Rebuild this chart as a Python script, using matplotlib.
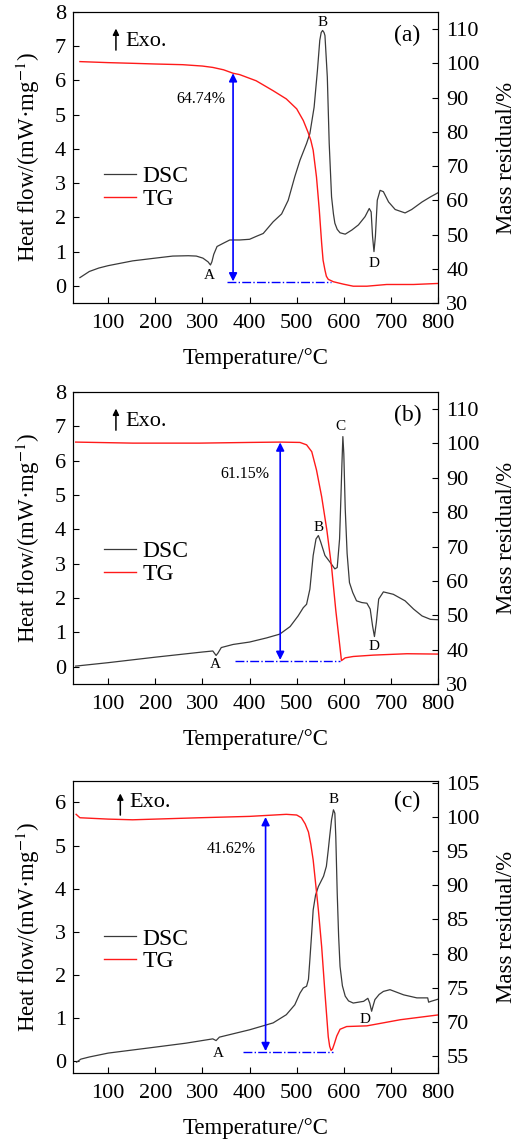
import matplotlib
matplotlib.use("Agg")
from matplotlib import pyplot as plt
from matplotlib.ticker import FixedLocator, FixedFormatter

plt.rcParams['font.family'] = ['Liberation Serif', 'DejaVu Serif']
plt.rcParams['mathtext.fontset'] = 'stix'

# panel (a)
dsc_a_t = [40, 60, 80, 100, 152, 200, 237, 270, 287, 301, 312, 317, 320, 324, 331, 345, 358,
           379, 400, 415, 429, 450, 468, 482, 496, 507, 521, 528, 537, 544, 549, 552, 555,
           558, 560, 565, 569, 574, 578, 581, 586, 592, 603, 617, 631, 645, 654, 658, 661,
           664, 667, 671, 677, 684, 695, 709, 730, 744, 766, 784, 800]
dsc_a = [0.24, 0.42, 0.52, 0.59, 0.73, 0.81, 0.87, 0.88, 0.87, 0.81, 0.70, 0.61, 0.70, 0.92,
         1.15, 1.25, 1.34, 1.34, 1.36, 1.45, 1.53, 1.87, 2.10, 2.50, 3.19, 3.67, 4.16, 4.45,
         5.22, 6.29, 7.17, 7.40, 7.46, 7.40, 7.31, 6.10, 4.16, 2.60, 2.10, 1.83, 1.65, 1.55,
         1.51, 1.63, 1.78, 2.02, 2.26, 2.16, 1.44, 1.00, 1.44, 2.50, 2.79, 2.75, 2.45, 2.23,
         2.13, 2.23, 2.45, 2.60, 2.72]
tg_a_t = [40, 100, 152, 200, 258, 300, 322, 345, 365, 379, 414, 450, 478, 500, 514, 524, 530,
          535, 542, 545, 548, 553, 556, 560, 563, 567, 578, 599, 620, 649, 691, 748, 800]
tg_a = [100.5, 100.2, 100.0, 99.8, 99.6, 99.2, 98.8, 98.1, 97.1, 96.7, 94.9, 92.0, 89.6,
        86.7, 83.3, 79.9, 77.5, 74.6, 66.8, 62.0, 57.1, 47.4, 42.5, 39.6, 37.8, 36.9, 36.2,
        35.5, 34.9, 34.9, 35.4, 35.4, 35.7]

# panel (b)
dsc_b_t = [31, 100, 200, 300, 322, 329, 333, 340, 365, 400, 436, 464, 486, 503, 514, 521,
           528, 535, 541, 546, 551, 560, 571, 581, 586, 591, 594, 596, 598, 600, 603, 607,
           612, 619, 627, 638, 649, 656, 661, 665, 669, 674, 684, 705, 730, 748, 766, 784, 800]
dsc_b = [0.02, 0.12, 0.28, 0.43, 0.46, 0.33, 0.40, 0.56, 0.65, 0.72, 0.84, 0.95, 1.17, 1.48,
         1.72, 1.82, 2.26, 3.24, 3.72, 3.82, 3.63, 3.24, 3.04, 2.85, 2.89, 3.72, 5.0, 5.9,
         6.7, 6.2, 4.6, 3.3, 2.45, 2.16, 1.92, 1.87, 1.85, 1.68, 1.19, 0.88, 1.29, 1.97,
         2.18, 2.11, 1.92, 1.68, 1.48, 1.38, 1.37]
tg_b_t = [31, 152, 294, 400, 464, 507, 521, 532, 542, 553, 564, 574, 583, 591, 595, 603, 620,
          663, 734, 800]
tg_b = [100.4, 100.1, 100.1, 100.3, 100.4, 100.3, 99.6, 97.6, 92.3, 84.5, 74.8, 64.1, 51.4,
        41.7, 36.8, 37.6, 38.0, 38.4, 38.8, 38.7]

# panel (c)  (right axis is compressed: tick "55" sits where 65 would be)
dsc_c_t = [33, 42, 60, 100, 201, 265, 322, 329, 336, 400, 450, 478, 496, 507, 514, 521, 525,
           528, 532, 535, 540, 546, 557, 563, 567, 570, 574, 578, 581, 583, 586, 589, 592,
           597, 603, 610, 620, 642, 651, 655, 659, 662, 666, 675, 684, 698, 727, 755, 778,
           780, 785, 800]
dsc_c = [-0.02, 0.05, 0.10, 0.19, 0.33, 0.42, 0.52, 0.48, 0.56, 0.73, 0.89, 1.08, 1.31, 1.58,
         1.70, 1.74, 1.90, 2.36, 3.00, 3.51, 3.85, 4.05, 4.29, 4.52, 4.90, 5.21, 5.60, 5.83,
         5.75, 5.20, 3.90, 2.90, 2.20, 1.75, 1.51, 1.40, 1.35, 1.39, 1.46, 1.35, 1.16, 1.28,
         1.43, 1.55, 1.62, 1.66, 1.54, 1.47, 1.47, 1.37, 1.39, 1.44]
tg_c_t = [32, 40, 100, 152, 294, 400, 478, 500, 510, 518, 525, 530, 535, 546, 553, 560, 567,
          570, 573, 576, 580, 585, 592, 606, 649, 720, 800]
tg_c = [100.4, 99.9, 99.7, 99.6, 99.9, 100.1, 100.4, 100.3, 99.9, 99.0, 97.8, 96.0, 93.7,
        86.4, 81.0, 74.2, 67.8, 66.4, 65.8, 66.0, 66.8, 67.9, 68.9, 69.3, 69.4, 70.3, 71.0]

fig = plt.figure(figsize=(5.24, 11.39), dpi=100)

panels = [
    dict(box=[0.139, 0.734, 0.697, 0.2555], dsc=(dsc_a_t, dsc_a), tg=(tg_a_t, tg_a),
         ylim=(-0.5, 8), yticks=range(0, 9), rlim=(30, 115), rticks=list(range(30, 111, 10)),
         rlabels=None, tag="(a)", tagy=7.31, loss="64.74%", lossxy=(297, 5.47),
         arrx=365, arr=(36.3, 97.1), dash=(353, 572, 36.2),
         letters=[("A", 315, 0.29), ("B", 555, 7.7), ("D", 664, 0.66)],
         exo=(0.118, 0.869, 0.943, 0.145, 0.90), leg=0.395),
    dict(box=[0.139, 0.3995, 0.697, 0.2564], dsc=(dsc_b_t, dsc_b), tg=(tg_b_t, tg_b),
         ylim=(-0.5, 8), yticks=range(0, 9), rlim=(30, 115), rticks=list(range(30, 111, 10)),
         rlabels=None, tag="(b)", tagy=7.31, loss="61.15%", lossxy=(390, 5.6),
         arrx=465, arr=(37.0, 100.3), dash=(370, 592, 36.8),
         letters=[("A", 328, 0.07), ("B", 546, 4.05), ("C", 593, 6.98), ("D", 664, 0.6)],
         exo=(0.118, 0.869, 0.943, 0.145, 0.90), leg=0.415),
    dict(box=[0.139, 0.058, 0.697, 0.2564], dsc=(dsc_c_t, dsc_c), tg=(tg_c_t, tg_c),
         ylim=(-0.27, 6.5), yticks=range(0, 7), rlim=(62.5, 105.3),
         rticks=[65, 70, 75, 80, 85, 90, 95, 100, 105],
         rlabels=["55", "70", "75", "80", "85", "90", "95", "100", "105"],
         tag="(c)", tagy=6.02, loss="41.62%", lossxy=(362, 4.92),
         arrx=434, arr=(65.7, 100.0), dash=(386, 578, 65.6),
         letters=[("A", 334, 0.19), ("B", 578, 6.08), ("D", 645, 0.98)],
         exo=(0.130, 0.883, 0.957, 0.154, 0.925), leg=0.42),
]

for p in panels:
    ax = fig.add_axes(p['box'])
    ax2 = ax.twinx()
    l1, = ax.plot(*p['dsc'], color='#3a3a3a', lw=0.9, label='DSC')
    l2, = ax2.plot(*p['tg'], color='#ff1a1a', lw=1.0, label='TG')
    ax.set_xlim(25, 800)
    ax.set_xticks(range(100, 801, 100))
    ax.set_ylim(*p['ylim'])
    ax.set_yticks(list(p['yticks']))
    ax2.set_ylim(*p['rlim'])
    ax2.yaxis.set_major_locator(FixedLocator(p['rticks']))
    if p['rlabels']:
        ax2.yaxis.set_major_formatter(FixedFormatter(p['rlabels']))
    ax.tick_params(axis='x', direction='in', labelsize=16, length=4, width=0.8, pad=8)
    ax.tick_params(axis='y', direction='in', labelsize=16, length=4, width=0.8, pad=5)
    ax2.tick_params(axis='y', direction='in', labelsize=16, length=4, width=0.8, pad=6)
    ax.set_xlabel('Temperature/°C', fontsize=16.5, labelpad=11)
    ax.set_ylabel('Heat flow/(mW·mg$^{-1}$)', fontsize=16.5, labelpad=9)
    ax2.set_ylabel('Mass residual/%', fontsize=16.5, labelpad=12)

    # mass-loss double arrow and baseline
    ax2.annotate('', xy=(p['arrx'], p['arr'][1]), xytext=(p['arrx'], p['arr'][0]),
                 arrowprops=dict(arrowstyle='<|-|>', color='blue', lw=1.2,
                                 shrinkA=0, shrinkB=0, mutation_scale=12))
    d = p['dash']
    ax2.plot([d[0], d[1]], [d[2], d[2]], color='blue', lw=1.0, ls='-.')
    ax.text(p['lossxy'][0], p['lossxy'][1], p['loss'], fontsize=11.5, ha='center', va='center')
    for s, x, y in p['letters']:
        ax.text(x, y, s, fontsize=11, ha='center', va='center')
    ax.text(735, p['tagy'], p['tag'], fontsize=17, ha='center', va='center')

    ex = p['exo']
    ax.annotate('', xy=(ex[0], ex[2]), xytext=(ex[0], ex[1]), xycoords='axes fraction',
                arrowprops=dict(arrowstyle='-|>', color='black', lw=1.1,
                                shrinkA=0, shrinkB=0, mutation_scale=9))
    ax.text(ex[3], ex[4], 'Exo.', fontsize=16, transform=ax.transAxes, va='center')

    ax.legend([l1, l2], ['DSC', 'TG'], loc='center left', bbox_to_anchor=(0.085, p['leg']),
              frameon=False, fontsize=17, handlelength=1.35, handletextpad=0.3,
              labelspacing=0.05, borderpad=0, borderaxespad=0)

fig.savefig('out.png', dpi=100)
